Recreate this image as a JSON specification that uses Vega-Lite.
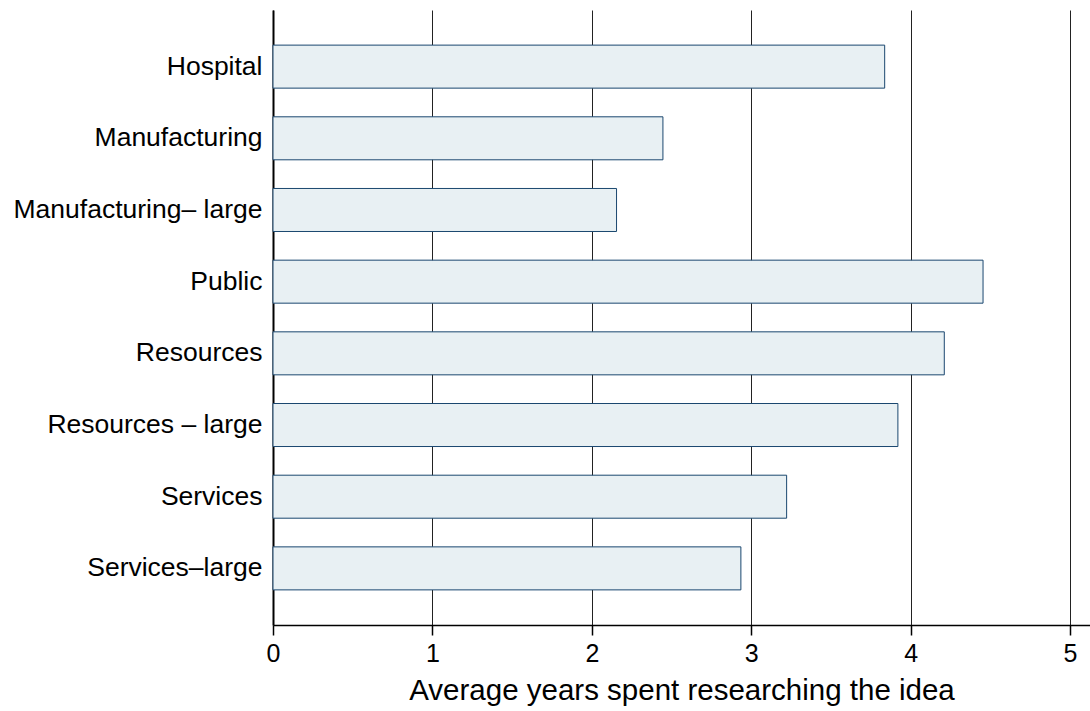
{
  "$schema": "https://vega.github.io/schema/vega-lite/v6.json",
  "autosize": "none",
  "padding": {"left": 273, "top": 10, "right": 0, "bottom": 86},
  "width": 817,
  "height": 615,
  "background": "white",
  "config": {
    "view": {"stroke": null},
    "font": "Liberation Sans"
  },
  "data": {
    "values": [
      {"sector": "Hospital", "years": 3.837},
      {"sector": "Manufacturing", "years": 2.446},
      {"sector": "Manufacturing– large", "years": 2.155},
      {"sector": "Public", "years": 4.454},
      {"sector": "Resources", "years": 4.211},
      {"sector": "Resources – large", "years": 3.92},
      {"sector": "Services", "years": 3.222},
      {"sector": "Services–large", "years": 2.935}
    ]
  },
  "mark": {"type": "bar", "fill": "#E8F0F3", "stroke": "#1A476F", "strokeWidth": 1},
  "encoding": {
    "y": {
      "field": "sector",
      "type": "nominal",
      "sort": null,
      "scale": {"paddingInner": 0.4, "paddingOuter": 0.49},
      "axis": {
        "title": null,
        "ticks": false,
        "grid": false,
        "labelPadding": 11,
        "labelFontSize": 26.5,
        "labelColor": "#000000",
        "labelFont": "Liberation Sans",
        "domainColor": "#000000",
        "domainWidth": 2,
        "labelLimit": 400
      }
    },
    "x": {
      "field": "years",
      "type": "quantitative",
      "scale": {"domain": [0, 5.125], "nice": false, "zero": true},
      "axis": {
        "title": "Average years spent researching the idea",
        "values": [0, 1, 2, 3, 4, 5],
        "format": "d",
        "grid": true,
        "gridColor": "#222222",
        "gridWidth": 1,
        "gridOpacity": 1,
        "tickColor": "#000000",
        "tickSize": 10,
        "tickWidth": 1.5,
        "domainColor": "#000000",
        "domainWidth": 1.5,
        "labelFontSize": 25,
        "labelColor": "#000000",
        "labelPadding": 6,
        "labelFlush": false,
        "labelFont": "Liberation Sans",
        "titleFont": "Liberation Sans",
        "titleFontSize": 29.5,
        "titleFontWeight": "normal",
        "titleColor": "#000000",
        "titlePadding": 10
      }
    }
  }
}
